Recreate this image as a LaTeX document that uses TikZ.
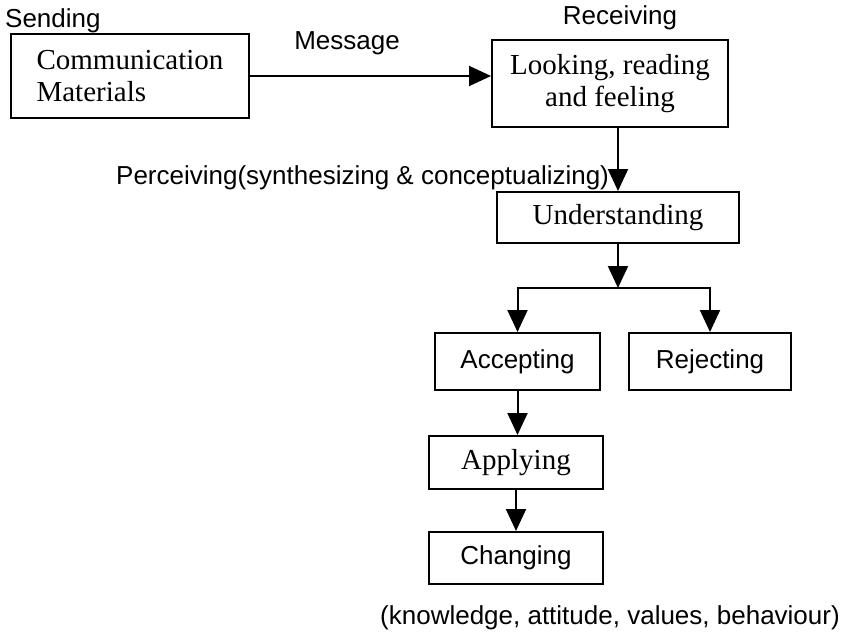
\documentclass[tikz,border=0pt]{standalone}
\usepackage{fontspec}
\setmainfont{Liberation Serif}
\setsansfont{Liberation Sans}
\usetikzlibrary{arrows.meta}

\tikzset{
  stepbox/.style={draw, line width=2pt, inner sep=0pt, align=center},
  serifbox/.style={stepbox, font=\rmfamily\fontsize{29}{32}\selectfont},
  sansbox/.style={stepbox, font=\sffamily\fontsize{26}{30}\selectfont},
  caption/.style={inner sep=0pt, font=\sffamily\fontsize{26}{30}\selectfont},
  flow/.style={line width=2pt, -{Triangle[length=22pt, width=20pt]}}
}

\begin{document}
\begin{tikzpicture}[x=1pt, y=-1pt]
  \useasboundingbox (0,0) rectangle (846,634);

  % headings and labels
  \node[caption, anchor=base west] (send) at (5,28) {Sending};
  \node[caption, anchor=base] (recv) at (620,25) {Receiving};
  \node[caption, anchor=base] (msg) at (347,50) {Message};
  \node[caption, anchor=base west] (perc) at (116,184)
    {Perceiving(synthesizing \& conceptualizing)};
  \node[caption, anchor=base east] (kavb) at (840,624)
    {(knowledge, attitude, values, behaviour)};

  % boxes
  \node[serifbox, align=left, minimum width=238pt, minimum height=84pt] (comm) at (130,76)
    {Communication\\Materials};
  \node[serifbox, minimum width=236pt, minimum height=87pt] (look) at (610,83.5)
    {Looking, reading\\and feeling};
  \node[serifbox, minimum width=242pt, minimum height=51pt] (und) at (618,217.5)
    {Understanding};
  \node[sansbox, minimum width=165pt, minimum height=57pt] (acc) at (517.5,361.5)
    {Accepting};
  \node[sansbox, minimum width=162pt, minimum height=57pt] (rej) at (710,361.5)
    {Rejecting};
  \node[serifbox, minimum width=174pt, minimum height=53pt] (app) at (516,462.5)
    {Applying};
  \node[sansbox, minimum width=174pt, minimum height=52pt] (chg) at (516,558)
    {Changing};

  % branching point below Understanding
  \coordinate (fork) at (618,288);

  % connectors
  \draw[flow] (comm.east) -- (comm.east -| look.west);
  \draw[flow] (und.north |- look.south) -- (und.north);
  \draw[flow] (und.south) -- (fork);
  \draw[flow] (fork) -| (acc.north);
  \draw[flow] (fork) -| (rej.north);
  \draw[flow] (acc.south) -- (acc.south |- app.north);
  \draw[flow] (app.south) -- (chg.north);
\end{tikzpicture}
\end{document}
